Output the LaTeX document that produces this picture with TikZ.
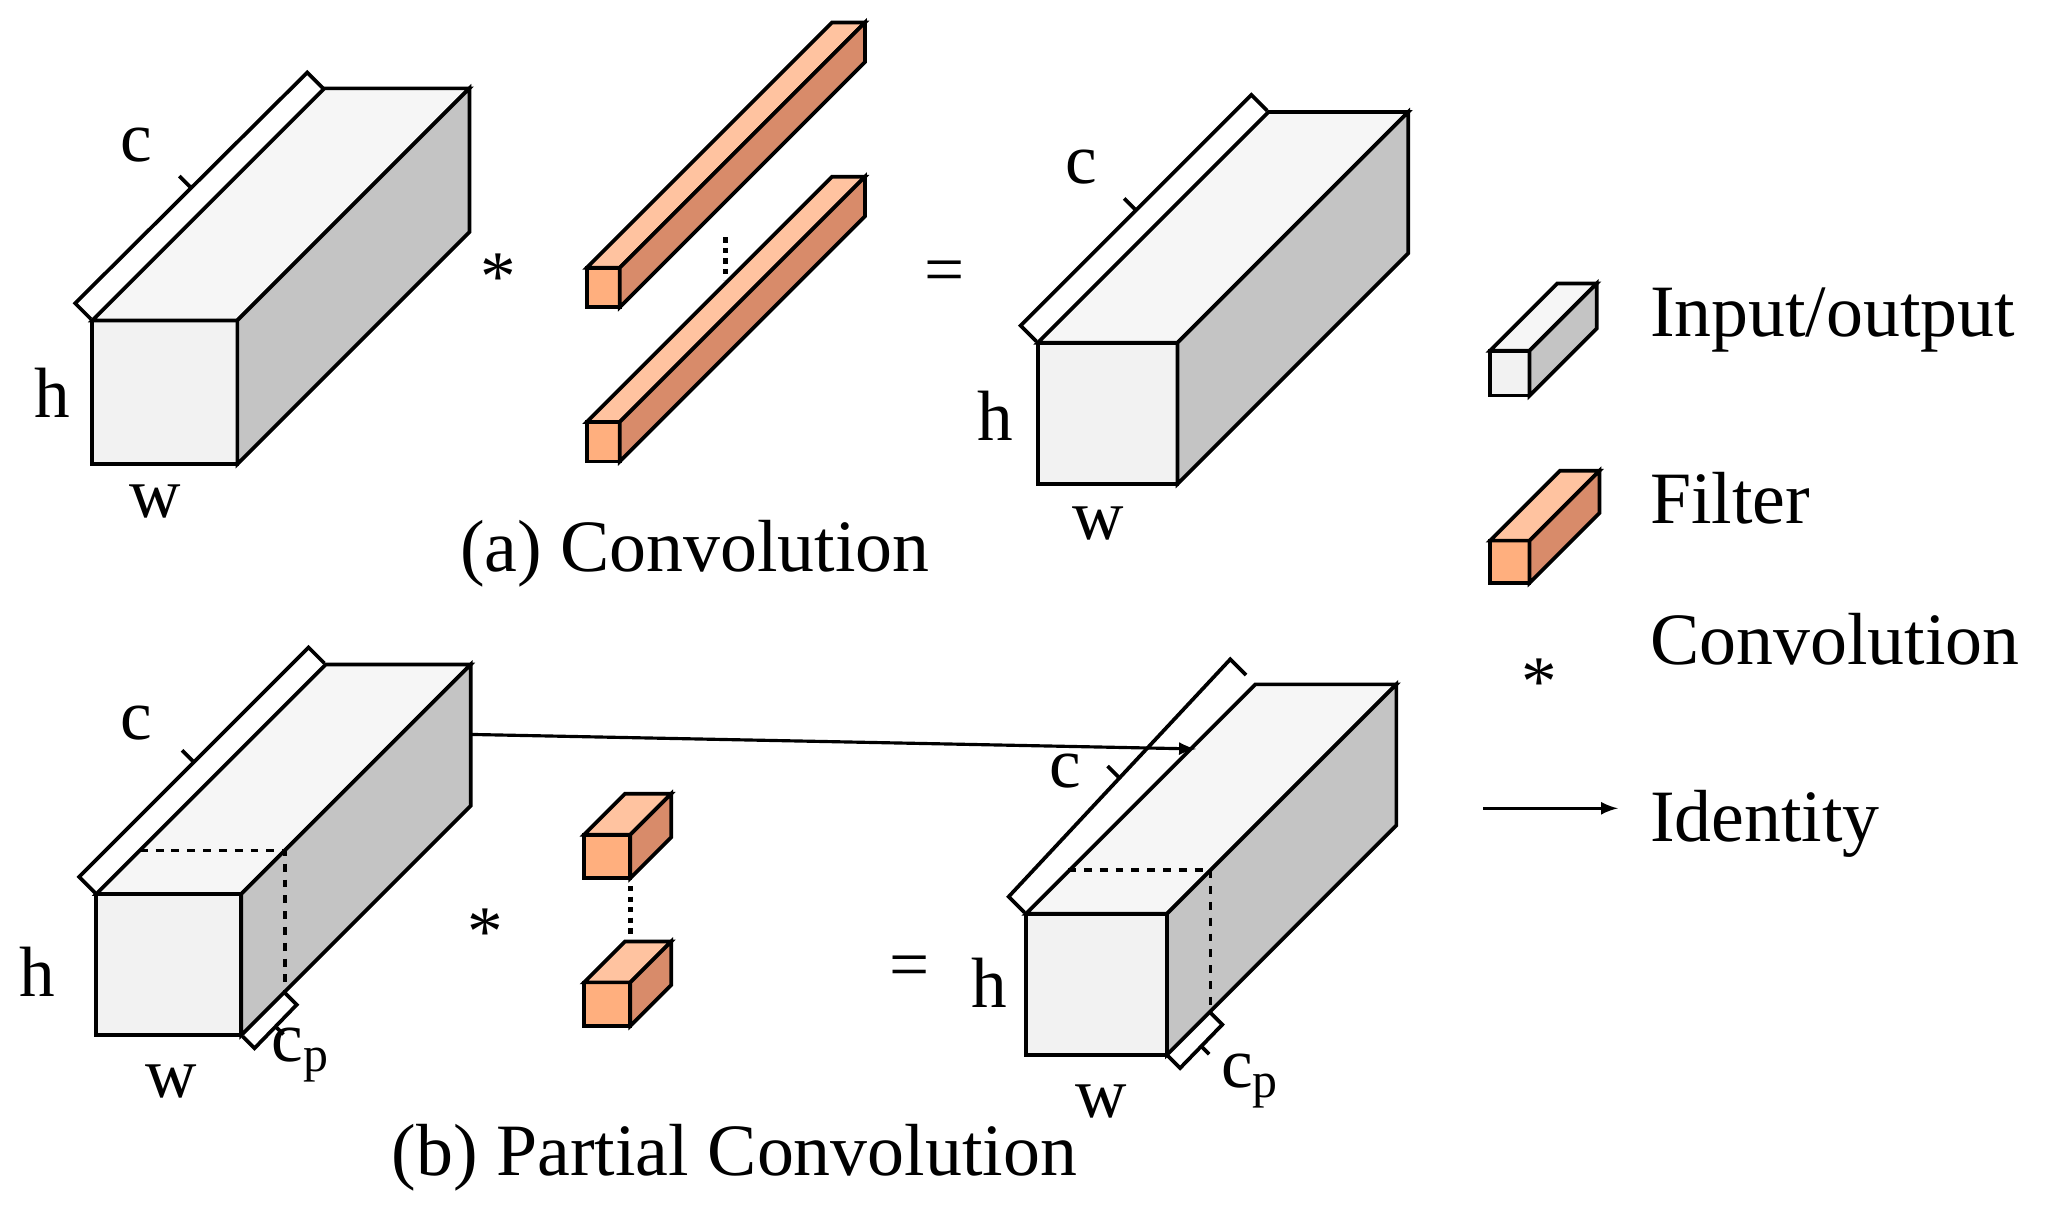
\documentclass[tikz,border=0pt]{standalone}
\usepackage{fontspec}
\setmainfont{Liberation Serif}
\usetikzlibrary{calc}
\definecolor{boxfront}{HTML}{F2F2F2}
\definecolor{boxtop}{HTML}{F6F6F6}
\definecolor{boxside}{HTML}{C4C4C4}
\definecolor{filfront}{HTML}{FFAF7E}
\definecolor{filtop}{HTML}{FFC3A0}
\definecolor{filside}{HTML}{D88B6A}
% x y w h depth front top side
\newcommand{\cuboid}[8]{%
	\draw[fill=#6] (#1,#2) rectangle ++(#3,#4);
	\draw[fill=#7] (#1,#2) -- ++(#5,-#5) -- ++(#3,0) -- ({#1+#3},#2) -- cycle;
	\draw[fill=#8] ({#1+#3},#2) -- ++(#5,-#5) -- ++(0,#4) -- ({#1+#3},{#2+#4}) -- cycle;
}
\newcommand{\cbrack}[4]{%
	\draw (#1,#2) -- ++(-12,-12) coordinate (b1) -- ({#3-12},{#4-12}) coordinate (b2) -- (#3,#4);
	\draw ($(b1)!.5!(b2)$) -- ++(-9,-9);
}
\newcommand{\pbrack}[4]{%
	\draw (#1,#2) -- ++(9,9) coordinate (b1) -- ({#3+9},{#4+9}) coordinate (b2) -- (#3,#4);
	\draw ($(b1)!.5!(b2)$) -- ++(6,6);
}
\begin{document}
\begin{tikzpicture}[x=0.5pt,y=-0.5pt,line width=1.4pt,line join=miter,
	lbl/.style={font=\fontsize{27}{30}\selectfont,inner sep=0pt},
	captxt/.style={font=\fontsize{28}{32}\selectfont,inner sep=0pt}]
	\useasboundingbox[fill=white] (0,0) rectangle (1560,921);
	% (a) convolution
	\cuboid{70}{243}{110}{109}{176}{boxfront}{boxtop}{boxside}
	\cbrack{69}{242}{245}{67}
	\node[lbl] (ca) at (103,110) {c};
	\node[lbl] (ha) at (40,298) {h};
	\node[lbl] (wa) at (118,380) {w};
	\node[lbl] (sa) at (378,210) {*};
	\cuboid{445}{203}{25}{30}{186}{filfront}{filtop}{filside}
	\cuboid{445}{320}{25}{30}{186}{filfront}{filtop}{filside}
	\draw[dotted,line width=2pt] (550,180) -- (550,212);
	\node[lbl] (ea) at (716,210) {=};
	\cuboid{787}{260}{106}{107}{175}{boxfront}{boxtop}{boxside}
	\cbrack{786}{259}{961}{84}
	\node[lbl] (cb) at (820,127) {c};
	\node[lbl] (hb) at (755,315) {h};
	\node[lbl] (wb) at (833,397) {w};
	\node[captxt] (capa) at (527,420) {(a) Convolution};
	% (b) partial convolution
	\cuboid{73}{678}{110}{107}{174}{boxfront}{boxtop}{boxside}
	\draw[dashed] (106,645) -- (216,645) -- (216,752);
	\cbrack{72}{677}{246}{503}
	\pbrack{184}{786}{216}{753}
	\node[lbl] (cc) at (103,548) {c};
	\node[lbl] (hc) at (28,737) {h};
	\node[lbl] (wc) at (130,820) {w};
	\node[lbl] (pc) at (228,800) {c\textsubscript{p}};
	\node[lbl] (sb) at (368,707) {*};
	\cuboid{443}{633}{35}{33}{31}{filfront}{filtop}{filside}
	\cuboid{443}{745}{35}{33}{31}{filfront}{filtop}{filside}
	\draw[dotted,line width=2pt] (478,672) -- (478,710);
	\node[lbl] (eb) at (690,737) {=};
	\cuboid{778}{693}{107}{107}{174}{boxfront}{boxtop}{boxside}
	\draw[dashed] (810,660) -- (918,660) -- (918,765);
	\cbrack{777}{692}{945}{512}
	\pbrack{886}{801}{918}{768}
	\node[lbl] (cd) at (808,585) {c};
	\node[lbl] (hd) at (750,745) {h};
	\node[lbl] (wd) at (835,835) {w};
	\node[lbl] (pd) at (948,820) {c\textsubscript{p}};
	\coordinate (idsrc) at (358,557);
	\coordinate (iddst) at (907,568);
	\draw[-latex,line width=1.2pt] (idsrc) -- (iddst);
	\node[captxt] (capb) at (557,878) {(b) Partial Convolution};
	% legend
	\cuboid{1130}{266}{30}{34}{51}{boxfront}{boxtop}{boxside}
	\node[captxt,anchor=west] (lio) at (1250,243) {Input/output};
	\cuboid{1130}{410}{30}{32}{53}{filfront}{filtop}{filside}
	\node[captxt,anchor=west] (lfi) at (1250,378) {Filter};
	\node[captxt,anchor=west] (lco) at (1250,485) {Convolution};
	\node[lbl] (lst) at (1167,517) {*};
	\coordinate (la) at (1125,613);
	\coordinate (lb) at (1227,613);
	\draw[-latex,line width=1.2pt] (la) -- (lb);
	\node[captxt,anchor=west] (lid) at (1250,625) {Identity};
\end{tikzpicture}
\end{document}
